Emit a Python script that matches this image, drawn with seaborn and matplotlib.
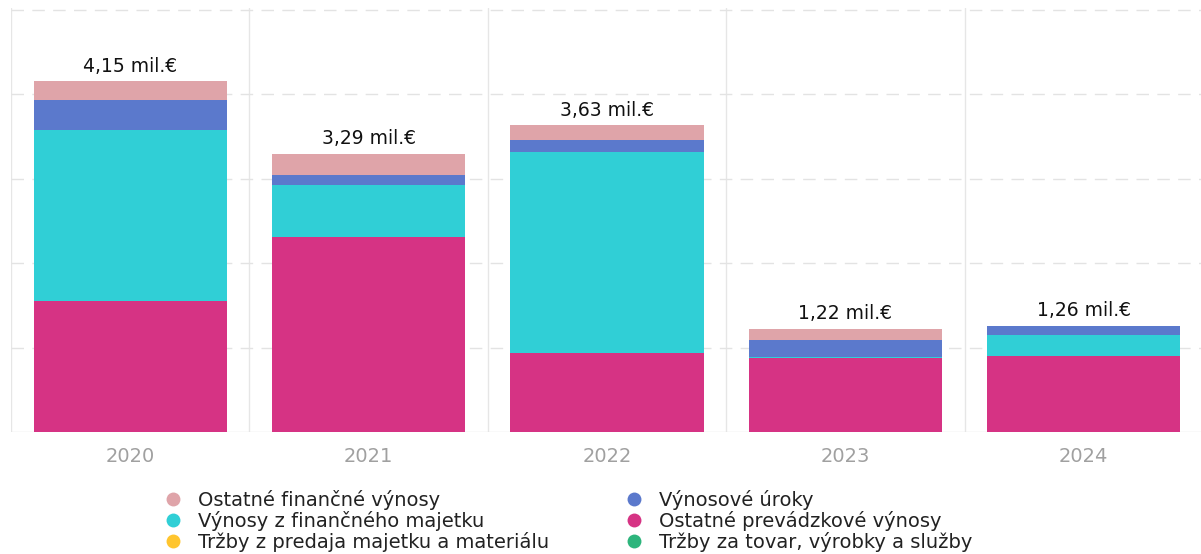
import numpy as np
import pandas as pd
import matplotlib
matplotlib.use('Agg')
import matplotlib.pyplot as plt
from matplotlib.lines import Line2D
import seaborn as sns

# údaje (mil. €), odčítané z grafu
roky = ['2020', '2021', '2022', '2023', '2024']
trzby_tovar = [0.0, 0.0, 0.0, 0.0, 0.0]
trzby_majetok = [0.0, 0.0, 0.0, 0.0, 0.0]
ostatne_prevadzkove = [1.55, 2.31, 0.94, 0.88, 0.90]
vynosy_fin_majetok = [2.02, 0.62, 2.37, 0.01, 0.25]
vynosove_uroky = [0.36, 0.11, 0.15, 0.20, 0.11]
ostatne_financne = [0.22, 0.25, 0.17, 0.13, 0.00]

# poradie zdola nahor
serie = [
    ('Tržby za tovar, výrobky a služby', trzby_tovar, '#2DB57C'),
    ('Tržby z predaja majetku a materiálu', trzby_majetok, '#FFC52E'),
    ('Ostatné prevádzkové výnosy', ostatne_prevadzkove, '#D63384'),
    ('Výnosy z finančného majetku', vynosy_fin_majetok, '#30CFD6'),
    ('Výnosové úroky', vynosove_uroky, '#5B79CC'),
    ('Ostatné finančné výnosy', ostatne_financne, '#DFA4A9'),
]

df = pd.DataFrame({'rok': roky})
for nazov, hodnoty, _ in serie:
    df[nazov] = hodnoty
nazvy = [s[0] for s in serie]
kum = df[nazvy].cumsum(axis=1)

sns.set_style('white')
plt.rcParams['font.family'] = ['DejaVu Sans']

fig = plt.figure(figsize=(12.01, 5.54), dpi=100)
ax = fig.add_axes([11 / 1201, 1 - 432 / 554, 1192 / 1201, 424 / 554])

# kreslenie od najvyššej kumulatívnej vrstvy po najnižšiu
for nazov, _, farba in reversed(serie):
    sns.barplot(x=df['rok'], y=kum[nazov], color=farba, width=0.81,
                linewidth=0, saturation=1, ax=ax, zorder=3)

ax.set_xlim(-0.5, 4.5)
ax.set_ylim(0, 5.02)
ax.set_xlabel('')
ax.set_ylabel('')
ax.set_yticks([1, 2, 3, 4, 5])
ax.set_yticklabels([])
ax.tick_params(axis='y', length=0)
ax.tick_params(axis='x', length=0, pad=11, labelsize=14, labelcolor='#a0a0a0')
for s in ax.spines.values():
    s.set_visible(False)

ax.yaxis.grid(True, color='#e3e3e3', linewidth=1, linestyle=(0, (9, 6)), zorder=0)
ax.set_xticks(np.arange(-0.5, 5, 1), minor=True)
ax.xaxis.grid(True, which='minor', color='#e6e6e6', linewidth=1, zorder=0)
ax.axhline(0, color='#e3e3e3', linewidth=1, zorder=1)

sucty = df[nazvy].sum(axis=1)
for i, v in enumerate(sucty):
    ax.annotate(f'{v:.2f}'.replace('.', ',') + ' mil.€', (i, v),
                xytext=(0, 7), textcoords='offset points',
                ha='center', va='baseline', fontsize=13.5, color='#111111')

# legenda v dvoch stĺpcoch
farby = {n: f for n, _, f in serie}
stlpce = [
    (['Ostatné finančné výnosy', 'Výnosy z finančného majetku',
      'Tržby z predaja majetku a materiálu'], 163),
    (['Výnosové úroky', 'Ostatné prevádzkové výnosy',
      'Tržby za tovar, výrobky a služby'], 624),
]
for polozky, x0 in stlpce:
    handles = [Line2D([], [], marker='o', linestyle='', markersize=10,
                      markerfacecolor=farby[n], markeredgewidth=0) for n in polozky]
    fig.legend(handles, polozky, loc='upper left',
               bbox_to_anchor=(x0 / 1201, 1 - 490 / 554),
               ncol=1, frameon=False, fontsize=14, labelcolor='#222222',
               handlelength=1.0, handletextpad=0.8, labelspacing=0.05,
               borderpad=0, borderaxespad=0)

fig.savefig('out.png', dpi=100)
